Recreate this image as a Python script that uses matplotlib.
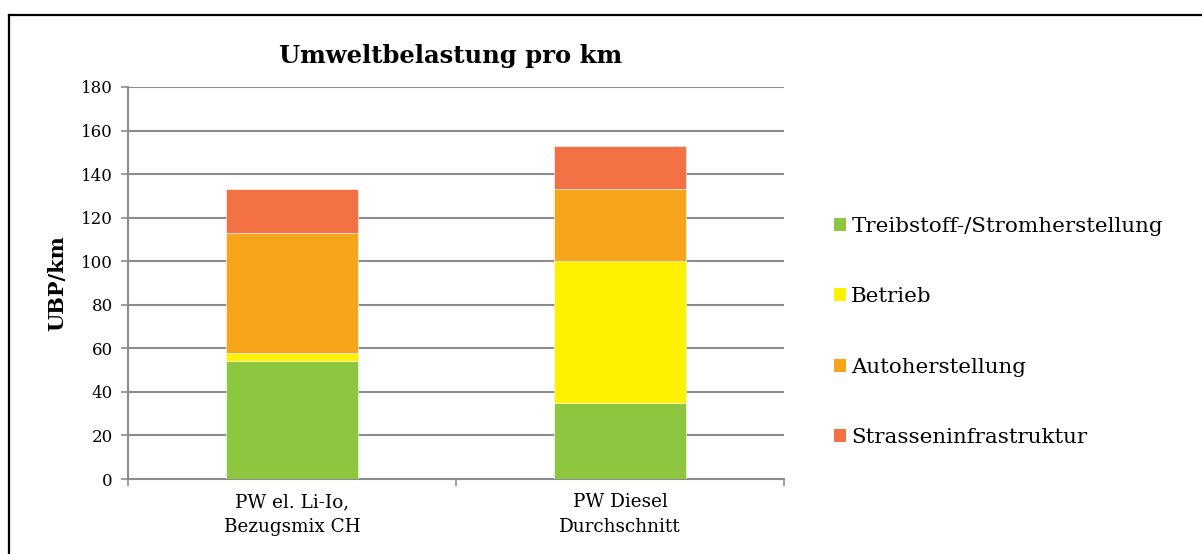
import matplotlib
matplotlib.use("Agg")
import matplotlib.pyplot as plt
from matplotlib.lines import Line2D
from matplotlib.patches import Patch
import numpy as np

categories = ["PW el. Li-Io,\nBezugsmix CH", "PW Diesel\nDurchschnitt"]
series_names = ["Treibstoff-/Stromherstellung", "Betrieb", "Autoherstellung", "Strasseninfrastruktur"]
treibstoff = [54, 35]
betrieb = [4, 65]
autoherstellung = [55, 33]
strasse = [20, 20]
colors = ["#8DC63F", "#FFF200", "#F8A51C", "#F37144"]
yticks = [0, 20, 40, 60, 80, 100, 120, 140, 160, 180]

plt.rcParams['font.family'] = ['DejaVu Serif']

fig = plt.figure(figsize=(12.02, 5.54), dpi=100)
ax = fig.add_axes([128/1202, 1-479/554, (784-128)/1202, (479-87)/554])

x = np.arange(len(categories))
bottom = np.zeros(len(categories))
handles = []
for vals, name, c in zip([treibstoff, betrieb, autoherstellung, strasse], series_names, colors):
    ax.bar(x, vals, width=0.4, bottom=bottom, color=c, edgecolor='#ffffff', linewidth=0.4, zorder=3)
    bottom += np.array(vals)
    handles.append(Patch(facecolor=c, edgecolor='none'))

grid_c = '#8c8c8c'
ax.set_xlim(-0.5, 1.5)
ax.set_ylim(0, 180)
ax.set_yticks(yticks)
ax.yaxis.grid(True, color=grid_c, linewidth=1.5, zorder=0)
ax.set_axisbelow(True)
for s in ['top', 'right']:
    ax.spines[s].set_visible(False)
for s in ['left', 'bottom']:
    ax.spines[s].set_color(grid_c)
    ax.spines[s].set_linewidth(1.5)
ax.tick_params(axis='y', length=5, width=1.2, color=grid_c, labelsize=12, pad=6)
ax.set_xticks([-0.5, 0.5, 1.5])
ax.set_xticklabels([])
ax.tick_params(axis='x', which='major', length=5, width=1.2, color=grid_c)
ax.set_xticks(x, minor=True)
ax.set_xticklabels(categories, minor=True, fontsize=13.2, linespacing=1.5)
ax.tick_params(axis='x', which='minor', length=0, pad=10)

ax.set_ylabel("UBP/km", fontsize=15, fontweight='bold', labelpad=10)
fig.text(451/1202, 1-56/554, "Umweltbelastung pro km", ha='center', va='center',
         fontsize=17.5, fontweight='bold')

leg = fig.legend(handles, series_names, loc='upper left', bbox_to_anchor=(834/1202, 1-217/554),
                 frameon=False, fontsize=15.4, handlelength=0.56, handleheight=0.56,
                 handletextpad=0.25, labelspacing=2.4, borderaxespad=0, borderpad=0)

# outer border (top and left)
fig.add_artist(Line2D([9/1202, 1], [1-15/554, 1-15/554], color='black', linewidth=1.6, transform=fig.transFigure))
fig.add_artist(Line2D([9/1202, 9/1202], [0, 1-15/554], color='black', linewidth=1.6, transform=fig.transFigure))

fig.savefig("out.png", dpi=100)
